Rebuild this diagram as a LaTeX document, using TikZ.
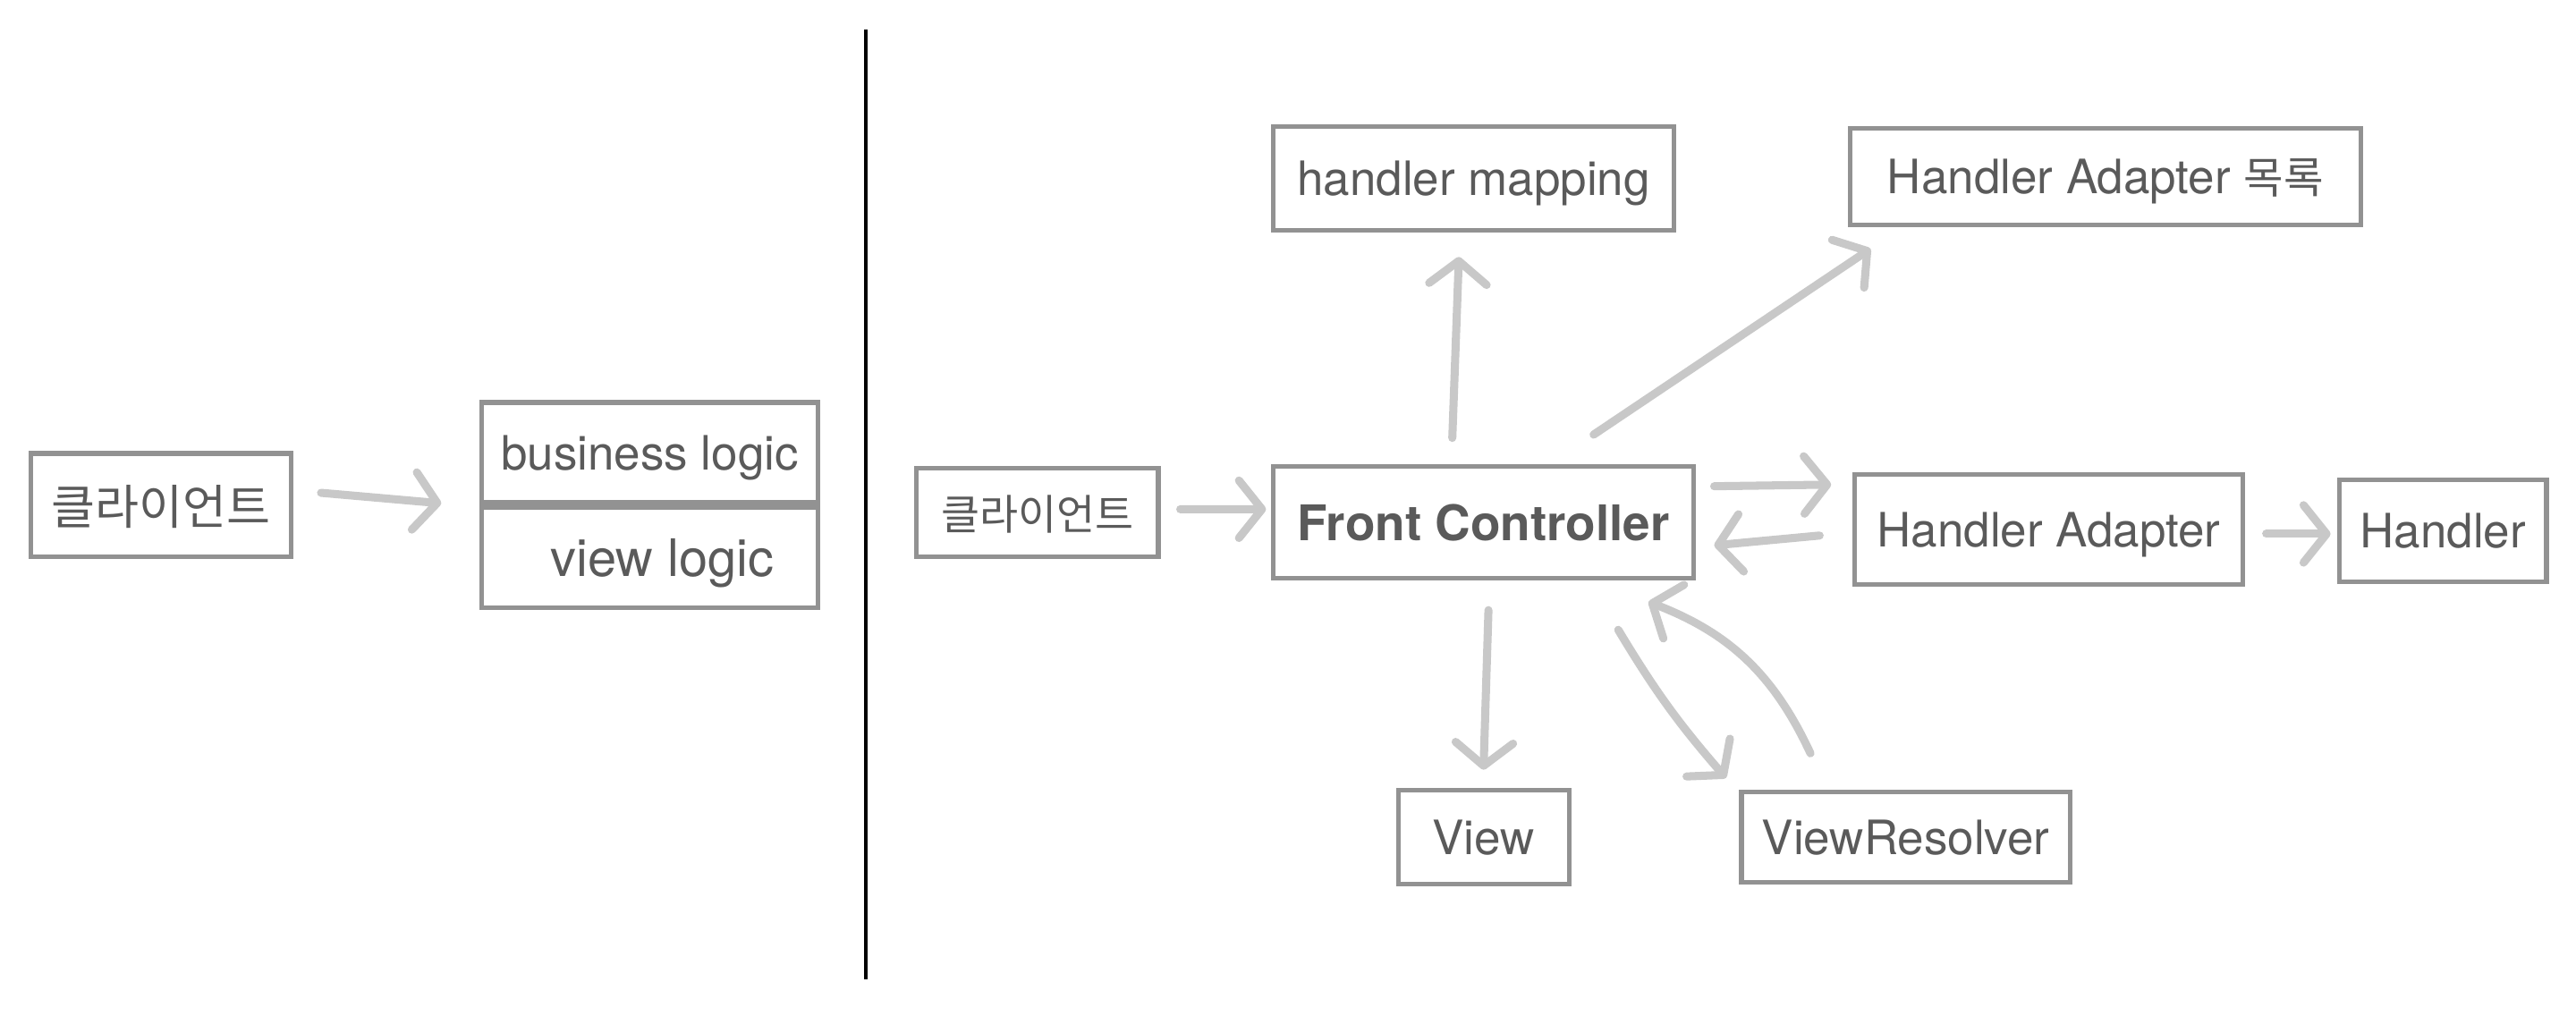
\documentclass[tikz,border=0pt]{standalone}
\usepackage{fontspec}
\setmainfont{TeX Gyre Heros}
\newfontfamily\kr{Noto Sans CJK KR}
\usetikzlibrary{arrows.meta}
\definecolor{boxgray}{HTML}{929292}
\definecolor{txtgray}{HTML}{5A5A5A}
\definecolor{arrgray}{HTML}{C8C8C8}

\begin{document}
\begin{tikzpicture}[mybox/.style={draw=boxgray, line width=1.6pt, text=txtgray, inner sep=0pt, text depth=0pt, font=\fontsize{16.4}{19}\selectfont},
		myarrow/.style={draw=arrgray, line width=2.8pt, line cap=round, -{Straight Barb[length=0.28cm, width=0.7cm, round]}}]
			\useasboundingbox (0, 0) rectangle (31.36, -12.36);

			% left: client and one servlet
			\node[mybox, minimum width=3.16cm, minimum height=1.26cm] at (1.96, -6.15) (cli1) {\kr\fontsize{16.5}{19}\selectfont 클라이언트};
			\node[mybox, minimum width=4.10cm, minimum height=1.22cm] at (7.91, -5.51) (biz) {business logic};
			\node[mybox, minimum width=4.10cm, minimum height=1.22cm, font=\fontsize{17.9}{21}\selectfont] at (7.91, -6.79) (viewlogic) {\hspace*{0.3cm}view logic};

			\draw[line width=1pt] (10.54, -0.36) -- (10.54, -11.92);

			% right: front controller
			\node[mybox, minimum width=2.94cm, minimum height=1.08cm] at (12.63, -6.24) (cli2) {\kr\fontsize{14.5}{17}\selectfont 클라이언트};
			\node[mybox, minimum width=5.12cm, minimum height=1.36cm, font=\fontsize{17}{20}\selectfont\bfseries] at (18.06, -6.36) (fc) {Front Controller};
			\node[mybox, minimum width=4.88cm, minimum height=1.26cm] at (17.94, -2.17) (hm) {handler mapping};
			\node[mybox, minimum width=6.22cm, minimum height=1.18cm] at (25.63, -2.15) (hal) {Handler Adapter {\kr\fontsize{15}{18}\selectfont 목록}};
			\node[mybox, minimum width=4.72cm, minimum height=1.34cm] at (24.94, -6.45) (ha) {Handler Adapter};
			\node[mybox, minimum width=2.52cm, minimum height=1.24cm] at (29.74, -6.46) (hd) {Handler};
			\node[mybox, minimum width=2.08cm, minimum height=1.14cm] at (18.06, -10.19) (view) {View};
			\node[mybox, minimum width=4.00cm, minimum height=1.10cm] at (23.20, -10.19) (vr) {ViewResolver};

			\path
			([xshift=0.34cm, yshift=0.15cm]cli1.east) edge[myarrow] ([xshift=-0.46cm, yshift=0.02cm]biz.south west)
			([xshift=0.24cm, yshift=0.04cm]cli2.east) edge[myarrow] ([xshift=-0.06cm, yshift=0.16cm]fc.west)
			([xshift=-0.38cm, yshift=0.32cm]fc.north) edge[myarrow] ([xshift=-0.18cm, yshift=-0.30cm]hm.south)
			([xshift=1.34cm, yshift=0.36cm]fc.north) edge[myarrow] ([xshift=0.28cm, yshift=-0.26cm]hal.south west)
			([xshift=0.22cm, yshift=0.44cm]fc.east) edge[myarrow] ([xshift=-0.26cm, yshift=0.55cm]ha.west)
			([xshift=-0.40cm, yshift=-0.07cm]ha.west) edge[myarrow] ([xshift=0.22cm, yshift=-0.28cm]fc.east)
			([xshift=0.26cm, yshift=-0.05cm]ha.east) edge[myarrow] ([xshift=-0.08cm, yshift=-0.04cm]hd.west)
			([xshift=0.06cm, yshift=-0.36cm]fc.south) edge[myarrow] ([yshift=0.22cm]view.north)
			([xshift=1.64cm, yshift=-0.60cm]fc.south) edge[myarrow, bend right=5] ([xshift=-0.16cm, yshift=0.14cm]vr.north west)
			([xshift=-1.16cm, yshift=0.44cm]vr.north) edge[myarrow, bend right=22] ([xshift=-0.58cm, yshift=-0.26cm]fc.south east);
		\end{tikzpicture}
\end{document}
